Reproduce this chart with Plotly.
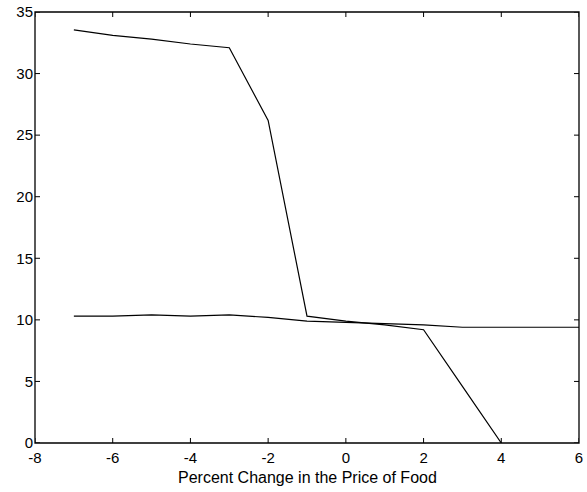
import plotly.graph_objects as go

x_upper = [-7, -6, -5, -4, -3, -2, -1, 0, 1, 2, 3, 4]
y_upper = [33.55, 33.1, 32.8, 32.4, 32.1, 26.2, 10.3, 9.9, 9.6, 9.2, 4.6, 0.0]

x_lower = [-7, -6, -5, -4, -3, -2, -1, 0, 1, 2, 3, 4, 5, 6]
y_lower = [10.3, 10.3, 10.4, 10.3, 10.4, 10.2, 9.9, 9.8, 9.7, 9.6, 9.4, 9.4, 9.4, 9.4]

x_ticks = [-8, -6, -4, -2, 0, 2, 4, 6]
y_ticks = [0, 5, 10, 15, 20, 25, 30, 35]
x_title = "Percent Change in the Price of Food"

FONT = "Liberation Sans, Arial"
W, H = 587, 492
ML, MR, MT, MB = 35, 8, 12, 49
PW, PH = W - ML - MR, H - MT - MB
TL = 5                   # tick length in px

fig = go.Figure()
fig.add_trace(go.Scatter(x=x_upper, y=y_upper, mode="lines",
                         line=dict(color="black", width=1.2), cliponaxis=False))
fig.add_trace(go.Scatter(x=x_lower, y=y_lower, mode="lines",
                         line=dict(color="black", width=1.2), cliponaxis=False))

shapes = [dict(type="rect", xref="paper", yref="paper", x0=0, x1=1, y0=0, y1=1,
               line=dict(color="black", width=1.3), fillcolor="rgba(0,0,0,0)", layer="above")]
for v in x_ticks:
    shapes.append(dict(type="line", xref="x", yref="paper", x0=v, x1=v, y0=0, y1=TL / PH,
                       line=dict(color="black", width=1)))
    shapes.append(dict(type="line", xref="x", yref="paper", x0=v, x1=v, y0=1, y1=1 - TL / PH,
                       line=dict(color="black", width=1)))
for v in y_ticks:
    shapes.append(dict(type="line", xref="paper", yref="y", x0=0, x1=TL / PW, y0=v, y1=v,
                       line=dict(color="black", width=1)))
    shapes.append(dict(type="line", xref="paper", yref="y", x0=1, x1=1 - TL / PW, y0=v, y1=v,
                       line=dict(color="black", width=1)))

axis_common = dict(showgrid=False, zeroline=False, showline=False, ticks="",
                   automargin=False, ticklabeloverflow="allow",
                   tickfont=dict(family=FONT, size=15, color="black"))

fig.update_xaxes(range=[-8, 6], tickvals=x_ticks, ticktext=[str(v) for v in x_ticks],
                 ticklabelstandoff=4, **axis_common)
fig.update_yaxes(range=[0, 35], tickvals=y_ticks, ticktext=[str(v) for v in y_ticks],
                 ticklabelstandoff=1, **axis_common)

fig.add_annotation(text=x_title, xref="paper", yref="paper", x=0.5, y=0,
                   xanchor="center", yanchor="middle", yshift=-34, showarrow=False,
                   font=dict(family=FONT, size=16, color="black"))

fig.update_layout(width=W, height=H, showlegend=False, shapes=shapes,
                  plot_bgcolor="white", paper_bgcolor="white",
                  margin=dict(l=ML, r=MR, t=MT, b=MB, autoexpand=False))

fig.write_html("out.html", config={"displayModeBar": False, "staticPlot": True},
               post_script="document.body.style.margin='0';document.body.style.overflow='hidden';")
